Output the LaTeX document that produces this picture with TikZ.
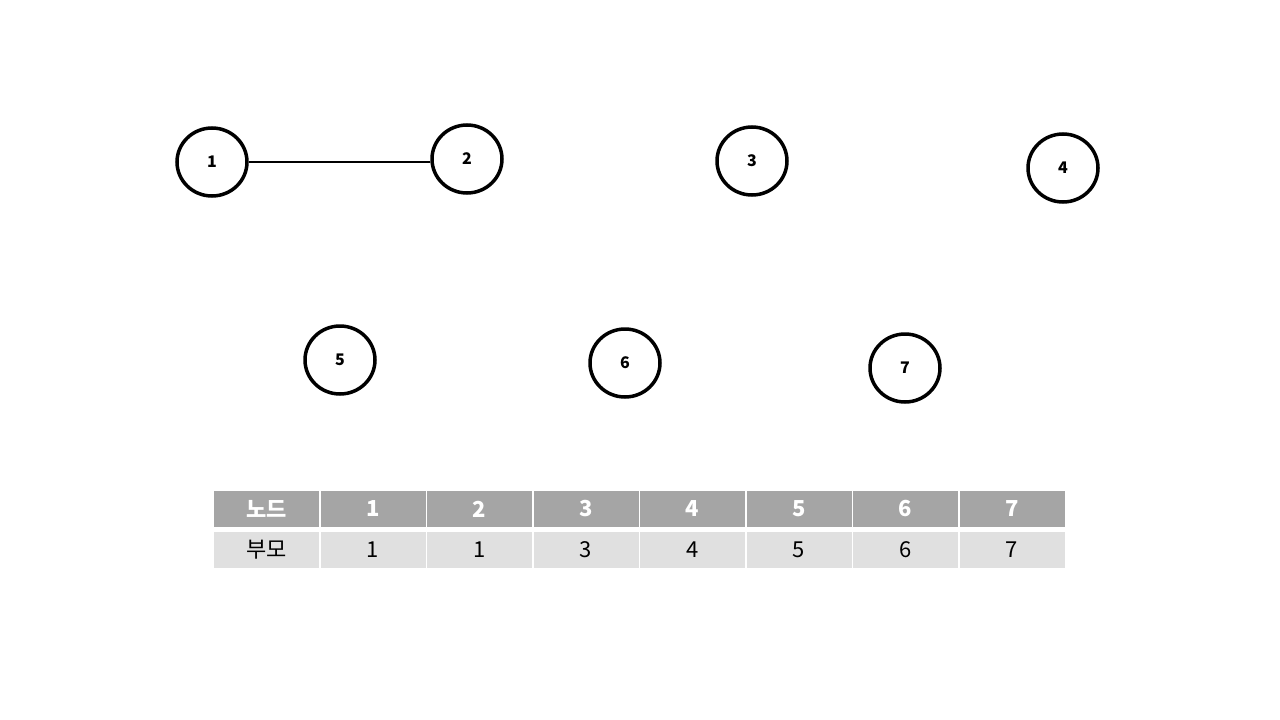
\documentclass[tikz,border=0pt]{standalone}
\usepackage{fontspec}
\setmainfont{Noto Sans CJK KR}
\definecolor{hdr}{HTML}{A5A5A5}
\definecolor{rowc}{HTML}{E0E0E0}
\usetikzlibrary{shapes.geometric}
\begin{document}
\begin{tikzpicture}[x=1pt,y=-1pt,
  vert/.style={draw=black,line width=3.5pt,ellipse,minimum width=70pt,minimum height=68pt,inner sep=0pt,font=\fontsize{16}{16}\selectfont\bfseries},
  edge/.style={line width=2.2pt},
  hcell/.style={fill=hdr,minimum width=105pt,minimum height=36pt,inner sep=0pt,text=white,font=\fontsize{22}{22}\selectfont\bfseries},
  bcell/.style={fill=rowc,minimum width=105pt,minimum height=36pt,inner sep=0pt,text=black,font=\fontsize{22}{22}\selectfont}]
\useasboundingbox (0,0) rectangle (1280,720);
\fill[white] (0,0) rectangle (1280,720);
\node[vert] (n1) at (212,162) {1};
\node[vert] (n2) at (467,159) {2};
\node[vert] (n3) at (752,161) {3};
\node[vert] (n4) at (1063,168) {4};
\node[vert] (n5) at (340,360) {5};
\node[vert] (n6) at (625,363) {6};
\node[vert] (n7) at (905,368) {7};
\draw[edge] (n1.east |- 0,162) -- (n2.west |- 0,162);
\node[hcell] (h0) at (266.5,509) {\raisebox{-1pt}{노드}};
\node[bcell] (b0) at (266.5,549.5) {\raisebox{-1pt}{부모}};
\node[hcell] (h1) at (373,509) {\raisebox{-1pt}{1}};
\node[bcell] (b1) at (373,549.5) {\raisebox{-1pt}{1}};
\node[hcell] (h2) at (479.5,509) {\raisebox{-1pt}{2}};
\node[bcell] (b2) at (479.5,549.5) {\raisebox{-1pt}{1}};
\node[hcell] (h3) at (586,509) {\raisebox{-1pt}{3}};
\node[bcell] (b3) at (586,549.5) {\raisebox{-1pt}{3}};
\node[hcell] (h4) at (692.5,509) {\raisebox{-1pt}{4}};
\node[bcell] (b4) at (692.5,549.5) {\raisebox{-1pt}{4}};
\node[hcell] (h5) at (799,509) {\raisebox{-1pt}{5}};
\node[bcell] (b5) at (799,549.5) {\raisebox{-1pt}{5}};
\node[hcell] (h6) at (905.5,509) {\raisebox{-1pt}{6}};
\node[bcell] (b6) at (905.5,549.5) {\raisebox{-1pt}{6}};
\node[hcell] (h7) at (1012,509) {\raisebox{-1pt}{7}};
\node[bcell] (b7) at (1012,549.5) {\raisebox{-1pt}{7}};
\end{tikzpicture}
\end{document}
